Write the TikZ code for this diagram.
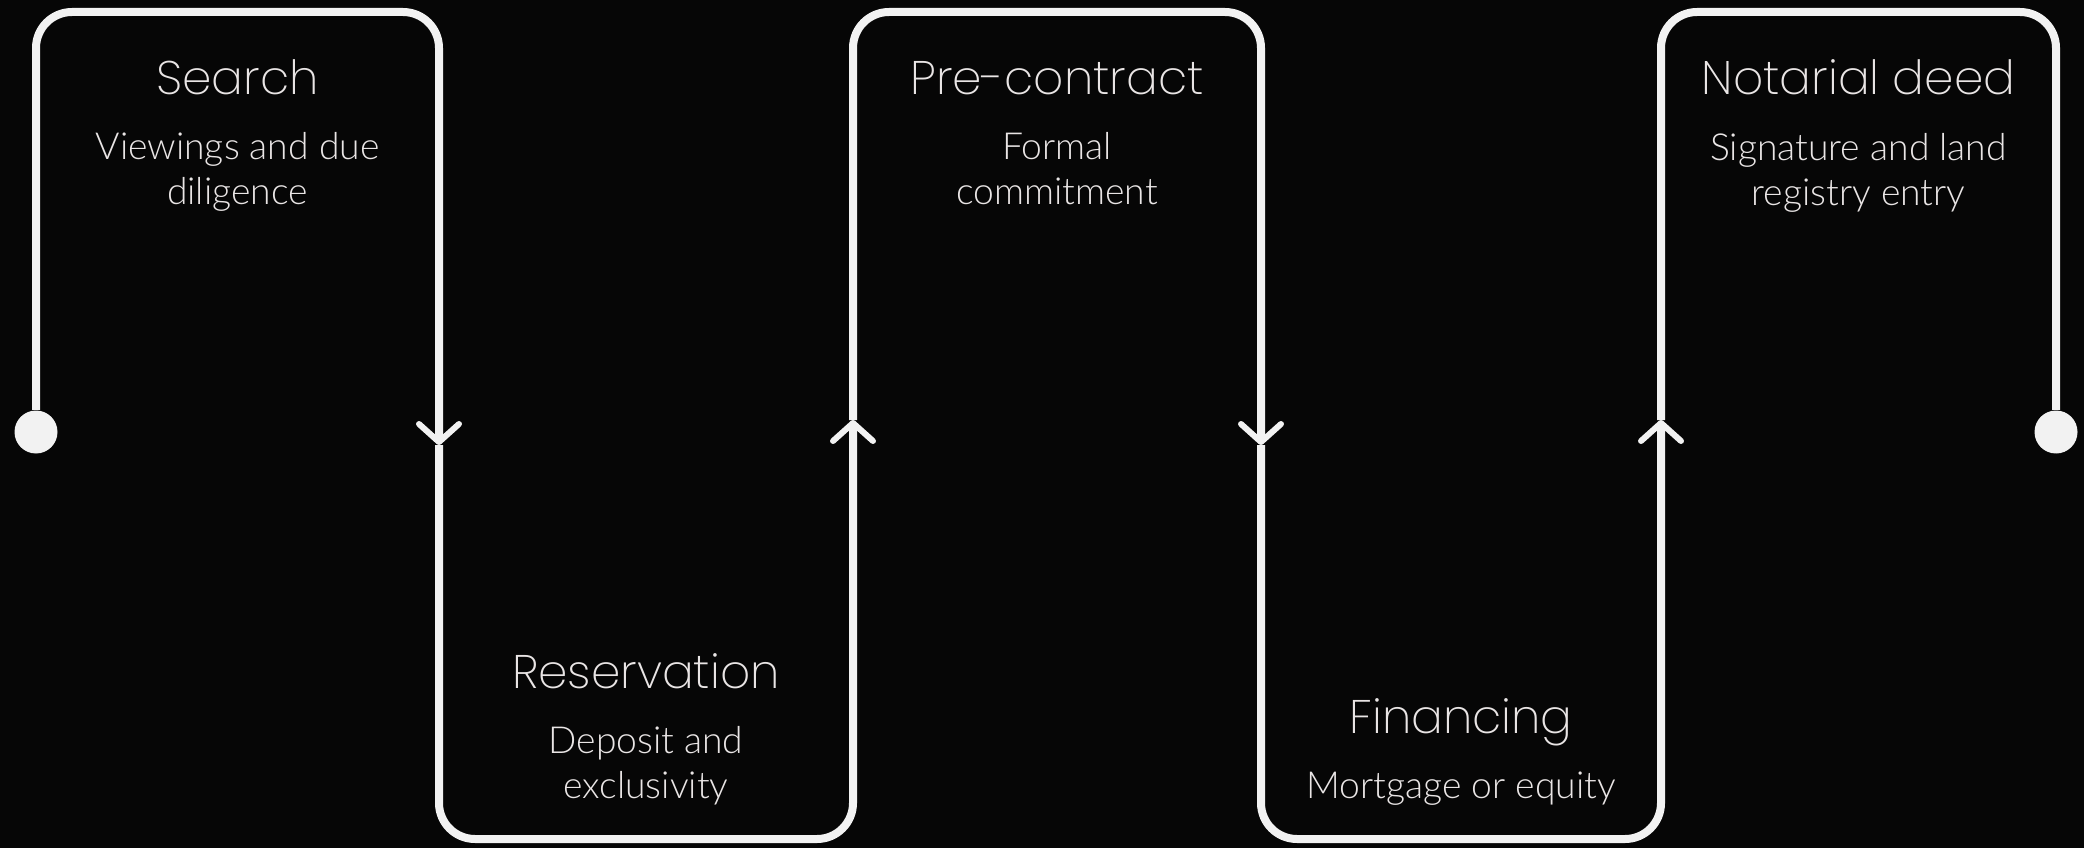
\documentclass[tikz,border=0pt]{standalone}
\usepackage{fontspec}
\setmainfont{Lato}[UprightFont=* Light]
\newfontfamily\headfont{Poppins}[UprightFont=* ExtraLight]
\usetikzlibrary{arrows.meta,positioning}

\definecolor{bg}{HTML}{060606}
\definecolor{ink}{HTML}{F2F2F2}
\definecolor{txt}{HTML}{E9E5E5}

\newcommand{\stagename}[1]{{\headfont\fontsize{13.4}{16}\selectfont\vphantom{d}#1}}

\begin{document}
\begin{tikzpicture}[
  flow/.style={draw=ink, line width=0.08cm, rounded corners=0.36cm},
  flowarrow/.style={flow, -{Straight Barb[length=0.18cm, width=0.40cm, line width=0.06cm, round]}},
  dot/.style={circle, fill=ink, inner sep=0pt, minimum size=0.43cm},
  stage/.style={text=txt, align=center, inner sep=0pt, font=\fontsize{10.6}{12.8}\selectfont}
  ]
  % Background
  \fill[bg] (0,0) rectangle (20.84,8.48);
  \useasboundingbox (0,0) rectangle (20.84,8.48);

  % End points and turning points on the middle line
  \node[dot] (start) at (0.36,4.16) {};
  \node[dot] (finish) at (20.56,4.16) {};
  \coordinate (m1) at (4.39,4.03);
  \coordinate (m2) at (8.53,4.28);
  \coordinate (m3) at (12.61,4.03);
  \coordinate (m4) at (16.61,4.28);

  % The winding line
  \draw[flowarrow] (start) -- ++(0,4.2) -| (m1);
  \draw[flowarrow] (m1) -- ++(0,-3.94) -| (m2);
  \draw[flowarrow] (m2) -- ++(0,4.08) -| (m3);
  \draw[flowarrow] (m3) -- ++(0,-3.94) -| (m4);
  \draw[flow] (m4) -- ++(0,4.08) -| (finish);

  % Stages
  \node[stage, anchor=north] (search) at (2.375,7.89)
    {\stagename{Search}\\[5.8pt] Viewings and due\\ diligence};
  \node[stage, anchor=south] (reservation) at (6.46,0.42)
    {\stagename{Reservation}\\[5.8pt] Deposit and\\ exclusivity};
  \node[stage, anchor=north] (precontract) at (10.57,7.89)
    {\stagename{Pre-contract}\\[5.8pt] Formal\\ commitment};
  \node[stage, anchor=south] (financing) at (14.61,0.42)
    {\stagename{Financing}\\[5.8pt] Mortgage or equity};
  \node[stage, anchor=north] (deed) at (18.585,7.89)
    {\stagename{Notarial deed}\\[5.8pt] Signature and land\\ registry entry};
\end{tikzpicture}
\end{document}
